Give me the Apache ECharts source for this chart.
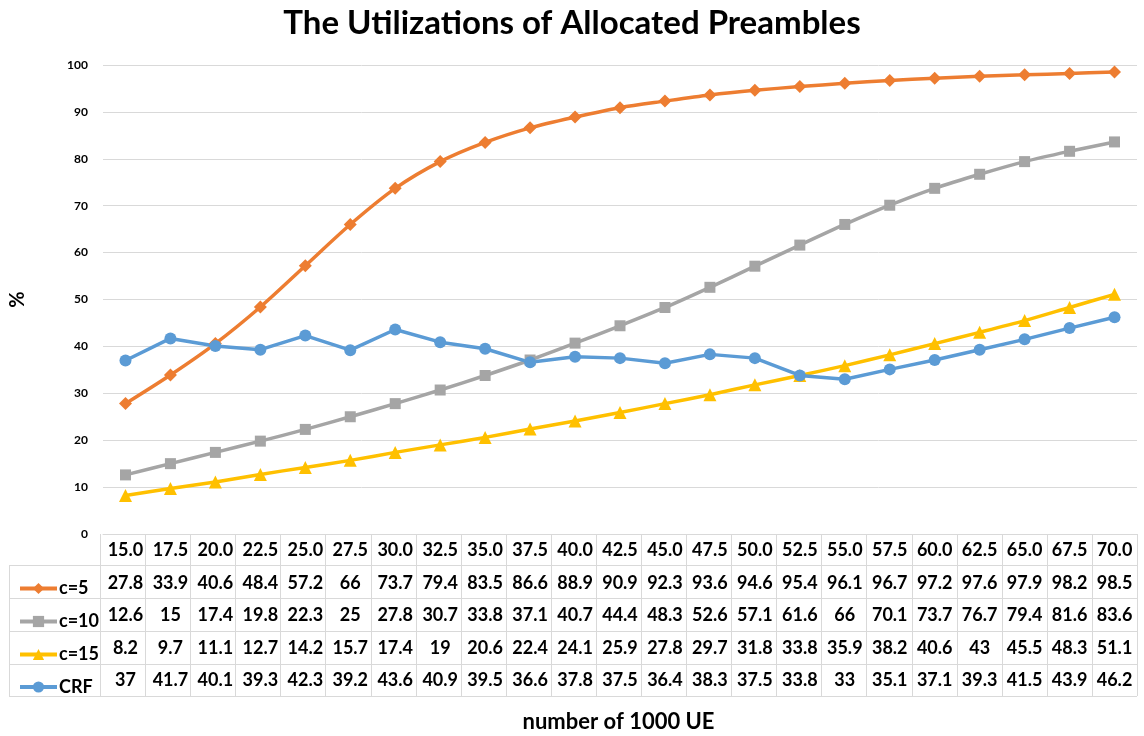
<!DOCTYPE html>
<html>
<head>
<meta charset="utf-8">
<script src="https://cdn.jsdelivr.net/npm/echarts@6/dist/echarts.min.js"></script>
<style>
  html, body { margin: 0; padding: 0; background: #fff; }
  #main { width: 1144px; height: 736px; }
</style>
</head>
<body>
<div id="main"></div>
<script>
// data
const categories = ["15.0", "17.5", "20.0", "22.5", "25.0", "27.5", "30.0", "32.5", "35.0", "37.5", "40.0", "42.5",
  "45.0", "47.5", "50.0", "52.5", "55.0", "57.5", "60.0", "62.5", "65.0", "67.5", "70.0"];
const c5 = [27.8, 33.9, 40.6, 48.4, 57.2, 66, 73.7, 79.4, 83.5, 86.6, 88.9, 90.9, 92.3, 93.6, 94.6, 95.4, 96.1, 96.7, 97.2, 97.6, 97.9, 98.2, 98.5];
const c10 = [12.6, 15, 17.4, 19.8, 22.3, 25, 27.8, 30.7, 33.8, 37.1, 40.7, 44.4, 48.3, 52.6, 57.1, 61.6, 66, 70.1, 73.7, 76.7, 79.4, 81.6, 83.6];
const c15 = [8.2, 9.7, 11.1, 12.7, 14.2, 15.7, 17.4, 19, 20.6, 22.4, 24.1, 25.9, 27.8, 29.7, 31.8, 33.8, 35.9, 38.2, 40.6, 43, 45.5, 48.3, 51.1];
const crf = [37, 41.7, 40.1, 39.3, 42.3, 39.2, 43.6, 40.9, 39.5, 36.6, 37.8, 37.5, 36.4, 38.3, 37.5, 33.8, 33, 35.1, 37.1, 39.3, 41.5, 43.9, 46.2];
const seriesNames = ["c=5", "c=10", "c=15", "CRF"];
const yTicks = [0, 100, 10];

const FONT = "Lato";
const gridLeft = 100, gridRight = 1137, gridTop = 65, gridBottom = 534;
const rowH = 32.5;
// table row borders under the axis
const rowLines = [565, 598, 631, 664, 696];
const tableBottom = rowLines[rowLines.length - 1];

var myChart = echarts.init(document.getElementById("main"));

const lines = [];
const colW = (gridRight - gridLeft) / categories.length;
for (let i = 0; i <= categories.length; i++) {
  const x = Math.round(gridLeft + i * colW) + 0.5;
  lines.push({ type: "line", shape: { x1: x, y1: gridBottom, x2: x, y2: tableBottom }, style: { stroke: "#d9d9d9", lineWidth: 1 } });
}
rowLines.forEach(function (y) {
  lines.push({ type: "line", shape: { x1: 9, y1: y + 0.5, x2: gridRight, y2: y + 0.5 }, style: { stroke: "#d9d9d9", lineWidth: 1 } });
});
lines.push({ type: "line", shape: { x1: 9.5, y1: rowLines[0], x2: 9.5, y2: tableBottom }, style: { stroke: "#d9d9d9", lineWidth: 1 } });

// one legend per table row so each key sits in its row
const legends = seriesNames.map(function (name, i) {
  const center = (rowLines[i] + rowLines[i + 1]) / 2;
  return {
    data: [name],
    left: 13,
    top: center - 7,
    itemWidth: 37,
    itemHeight: 14,
    itemGap: 0,
    lineStyle: { width: 4 },
    textStyle: { fontFamily: FONT, fontSize: 18, fontWeight: "bold", color: "#000", padding: [0, 0, 0, -3] },
  };
});

const option = {
  animation: false,
  textStyle: { fontFamily: FONT },
  title: {
    text: "The Utilizations of Allocated Preambles",
    left: "center",
    top: 2,
    textStyle: { fontFamily: FONT, fontSize: 33, fontWeight: "bold", color: "#000" },
  },
  legend: legends,
  grid: { left: gridLeft, right: 1144 - gridRight, top: gridTop, bottom: 736 - gridBottom, containLabel: false },
  xAxis: {
    type: "category",
    data: categories,
    boundaryGap: true,
    axisLine: { lineStyle: { color: "#d9d9d9" } },
    axisTick: { show: false },
    axisLabel: {
      interval: 0,
      margin: 0,
      formatter: function (val, idx) {
        return [val, c5[idx], c10[idx], c15[idx], crf[idx]].join("\n");
      },
      lineHeight: rowH,
      fontFamily: FONT,
      fontSize: 18,
      fontWeight: "bold",
      color: "#000",
    },
  },
  yAxis: {
    type: "value",
    min: yTicks[0],
    max: yTicks[1],
    interval: yTicks[2],
    name: "%",
    nameLocation: "middle",
    nameGap: 75,
    nameRotate: 90,
    nameTextStyle: { fontFamily: FONT, fontSize: 20, fontWeight: "bold", color: "#000" },
    axisLine: { show: false },
    axisTick: { show: false },
    splitLine: { lineStyle: { color: "#d9d9d9", width: 1 } },
    axisLabel: { margin: 15, fontFamily: FONT, fontSize: 12, fontWeight: "bold", color: "#000" },
  },
  graphic: lines.concat([
    {
      type: "text",
      x: (gridLeft + gridRight) / 2,
      y: 722,
      style: { text: "number of 1000 UE", fontFamily: FONT, fontSize: 22, fontWeight: "bold", fill: "#000",
        align: "center", verticalAlign: "middle" },
    },
  ]),
  series: [
    { name: seriesNames[0], type: "line", data: c5, smooth: 0.3, symbol: "diamond", symbolSize: 13,
      color: "#ED7D31", lineStyle: { width: 3.5 } },
    { name: seriesNames[1], type: "line", data: c10, smooth: 0.3, symbol: "rect", symbolSize: 11,
      color: "#A5A5A5", lineStyle: { width: 3.5 } },
    { name: seriesNames[2], type: "line", data: c15, smooth: 0.3, symbol: "triangle", symbolSize: 13,
      color: "#FFC000", lineStyle: { width: 3.5 } },
    { name: seriesNames[3], type: "line", data: crf, symbol: "circle", symbolSize: 12,
      color: "#5B9BD5", lineStyle: { width: 3.5 } },
  ],
};
myChart.setOption(option);
</script>
</body>
</html>
